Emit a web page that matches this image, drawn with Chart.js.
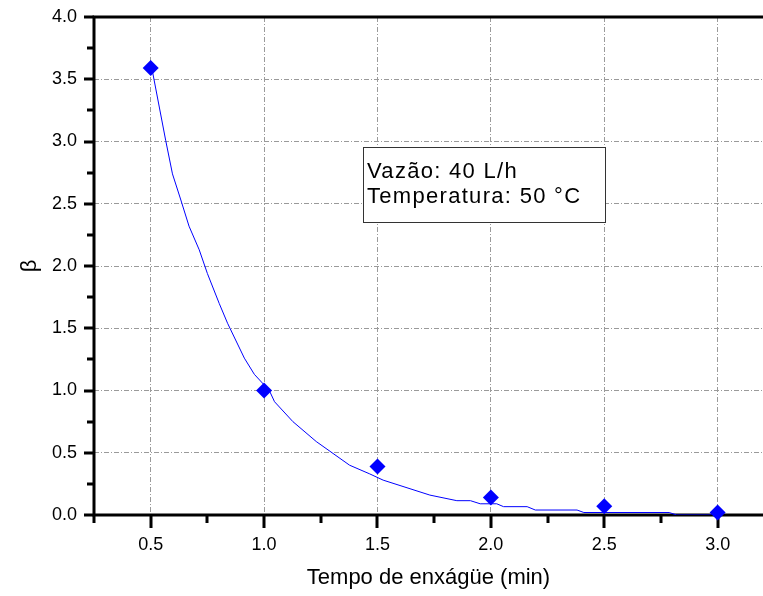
<!DOCTYPE html>
<html>
<head>
  <meta charset="utf-8">
  <title>Tempo de enxágüe</title>
  <script src="https://cdn.jsdelivr.net/npm/chart.js"></script>
  <style>
    html, body { margin: 0; padding: 0; background: #fff; overflow: hidden; }
  </style>
</head>
<body>
  <canvas id="betaChart" width="763" height="596"></canvas>

  <script>
    // pontos medidos
    const tempos = [0.5, 1.0, 1.5, 2.0, 2.5, 3.0];
    const betas = [3.59, 1.00, 0.39, 0.14, 0.07, 0.02];

    // curva ajustada
    const curvaX = [0.507, 0.566, 0.596, 0.633, 0.669, 0.714, 0.750, 0.802, 0.839, 0.913, 0.957,
                    1.023, 1.046, 1.127, 1.23, 1.377, 1.466, 1.525, 1.731, 1.85, 1.91, 1.953,
                    2.026, 2.056, 2.16, 2.196, 2.38, 2.41, 2.786, 2.82, 3.0];
    const curvaY = [3.57, 3.01, 2.74, 2.53, 2.32, 2.13, 1.94, 1.70, 1.54, 1.26, 1.13,
                    1.00, 0.91, 0.75, 0.59, 0.40, 0.33, 0.28, 0.16, 0.115, 0.115, 0.09,
                    0.09, 0.067, 0.067, 0.04, 0.04, 0.02, 0.02, 0.0, 0.0];

    const xTicks = [0.25, 0.5, 0.75, 1.0, 1.25, 1.5, 1.75, 2.0, 2.25, 2.5, 2.75, 3.0];
    const yTicks = [0, 0.25, 0.5, 0.75, 1.0, 1.25, 1.5, 1.75, 2.0, 2.25, 2.5, 2.75, 3.0, 3.25, 3.5, 3.75, 4.0];

    const legenda = ['Vazão: 40 L/h', 'Temperatura: 50 °C'];

    const fonte = '"Liberation Sans", Arial, sans-serif';
    const isMajor = v => Math.abs(v * 2 - Math.round(v * 2)) < 1e-6;

    // eixos grossos e marcas de escala
    const eixos = {
      id: 'eixos',
      beforeDatasetsDraw(chart) {
        const { ctx, chartArea: a, scales: { x, y } } = chart;
        ctx.save();
        ctx.strokeStyle = '#000';
        ctx.lineWidth = 3;
        ctx.lineCap = 'square';
        ctx.beginPath();
        ctx.moveTo(a.left, a.bottom); ctx.lineTo(a.left, a.top); ctx.lineTo(chart.width + 5, a.top);
        ctx.moveTo(a.left, a.bottom); ctx.lineTo(chart.width + 5, a.bottom);
        ctx.stroke();
        ctx.lineCap = 'butt';
        ctx.beginPath();
        x.ticks.forEach(t => {
          const px = Math.round(x.getPixelForValue(t.value));
          ctx.moveTo(px, a.bottom);
          ctx.lineTo(px, a.bottom + (isMajor(t.value) ? 13 : 8));
        });
        y.ticks.forEach(t => {
          const py = Math.round(y.getPixelForValue(t.value));
          ctx.moveTo(a.left, py);
          ctx.lineTo(a.left - (isMajor(t.value) ? 10 : 7), py);
        });
        ctx.stroke();
        ctx.restore();
      },
      afterDatasetsDraw(chart) {
        const { ctx } = chart;
        ctx.save();
        ctx.fillStyle = '#fff';
        ctx.strokeStyle = '#333';
        ctx.lineWidth = 1;
        ctx.fillRect(363.5, 147.5, 242, 75);
        ctx.strokeRect(363.5, 147.5, 242, 75);
        ctx.fillStyle = '#000';
        ctx.font = '22px ' + fonte;
        ctx.letterSpacing = '1.3px';
        ctx.textBaseline = 'middle';
        legenda.forEach((txt, i) => ctx.fillText(txt, 367, 172 + i * 25));
        ctx.restore();
      }
    };

    const ctx = document.getElementById('betaChart').getContext('2d');
    new Chart(ctx, {
      type: 'scatter',
      data: {
        datasets: [{
          data: tempos.map((t, i) => ({ x: t, y: betas[i] })),
          pointStyle: 'rectRot',
          pointRadius: 8,
          backgroundColor: '#0000ff',
          borderColor: '#0000ff',
          borderWidth: 0,
          clip: false,
          order: 0
        }, {
          data: curvaX.map((t, i) => ({ x: t, y: curvaY[i] })),
          showLine: true,
          pointRadius: 0,
          borderColor: '#0000ff',
          borderWidth: 1,
          tension: 0,
          order: 1
        }]
      },
      options: {
        responsive: false,
        animation: false,
        layout: { autoPadding: false, padding: { top: 17, right: 0, bottom: 0, left: 0 } },
        plugins: {
          legend: { display: false },
          tooltip: { enabled: false }
        },
        scales: {
          x: {
            type: 'linear',
            bounds: 'data',
            min: 0.25,
            max: 3.2,
            afterBuildTicks: s => { s.ticks = xTicks.map(v => ({ value: v })); },
            afterFit: s => { s.height = 81; s.paddingLeft = 0; s.paddingRight = 0; },
            border: { display: false, dash: [5, 2, 1, 2] },
            grid: {
              drawTicks: false,
              color: c => (c.tick && isMajor(c.tick.value)) ? '#9a9a9a' : 'rgba(0,0,0,0)',
              lineWidth: 1
            },
            ticks: {
              autoSkip: false,
              maxRotation: 0,
              padding: 19,
              color: '#000',
              font: { family: fonte, size: 18 },
              callback: v => isMajor(v) ? v.toFixed(1) : ''
            },
            title: {
              display: true,
              text: 'Tempo de enxágüe (min)',
              color: '#000',
              font: { family: fonte, size: 22 },
              padding: { top: 0, bottom: 5 }
            }
          },
          y: {
            type: 'linear',
            bounds: 'data',
            min: 0,
            max: 4,
            afterBuildTicks: s => { s.ticks = yTicks.map(v => ({ value: v })); },
            afterFit: s => { s.width = 94; s.paddingTop = 0; s.paddingBottom = 0; },
            border: { display: false, dash: [5, 2, 1, 2] },
            grid: {
              drawTicks: false,
              color: c => (c.tick && isMajor(c.tick.value)) ? '#9a9a9a' : 'rgba(0,0,0,0)',
              lineWidth: 1
            },
            ticks: {
              autoSkip: false,
              padding: 17,
              color: '#000',
              font: { family: fonte, size: 18 },
              callback: v => isMajor(v) ? v.toFixed(1) : ''
            },
            title: {
              display: true,
              text: 'β',
              color: '#000',
              font: { family: fonte, size: 22 },
              padding: { top: 17, bottom: 0 }
            }
          }
        }
      },
      plugins: [eixos]
    });
  </script>
</body>
</html>
